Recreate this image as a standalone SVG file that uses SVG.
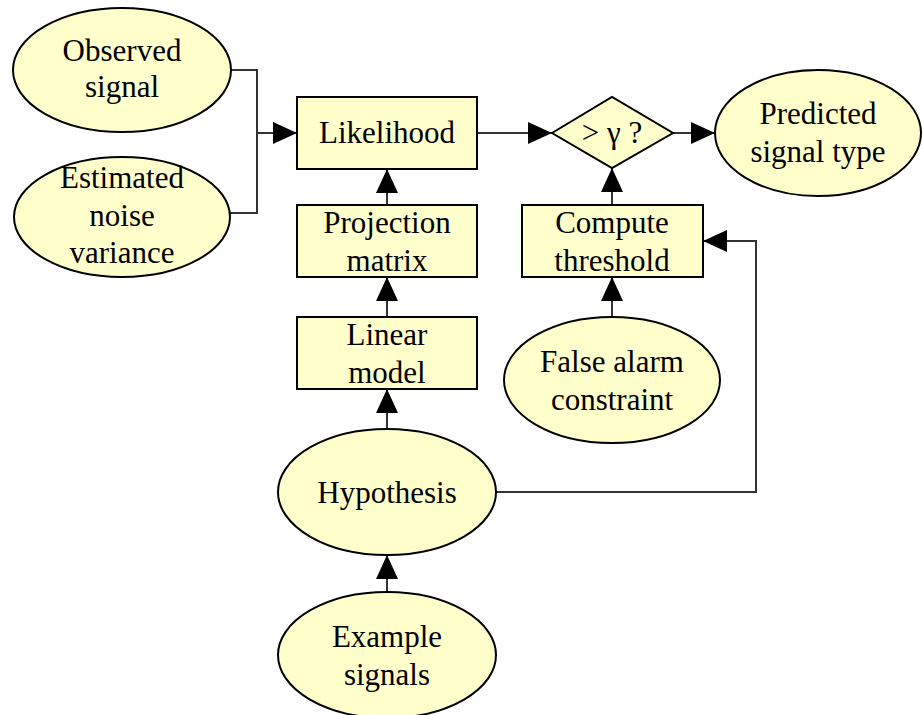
<svg xmlns="http://www.w3.org/2000/svg" width="922" height="715" viewBox="0 0 922 715">
  <style>
    .node { fill: #FFFFCC; stroke: #000000; stroke-width: 2; }
    .label { font-family: "Liberation Serif", "Times New Roman", serif; font-size: 31px; fill: #000000; text-anchor: middle; }
    .edge { fill: none; stroke: #333333; stroke-width: 2; marker-end: url(#arrow); }
  </style>
  <defs>
    <marker id="arrow" viewBox="0 0 24 22" refX="24" refY="11" markerWidth="24" markerHeight="22" markerUnits="userSpaceOnUse" orient="auto">
      <path d="M0,0 L24,11 L0,22 Z" fill="#000000"/>
    </marker>
  </defs>
  <rect width="922" height="715" fill="#FFFFFF"/>

  <!-- connectors -->
  <g id="edges">
    <path class="edge" d="M232,70 H257 V213 H230 M257,133 H297" />
    <path class="edge" d="M477,133 H552" />
    <path class="edge" d="M673,133 H715" />
    <path class="edge" d="M387,205 V169" />
    <path class="edge" d="M612,205 V168" />
    <path class="edge" d="M387,317 V277" />
    <path class="edge" d="M612,317 V277" />
    <path class="edge" d="M387,428 V389" />
    <path class="edge" d="M387,592 V555" />
    <path class="edge" d="M496,492 H756 V241 H703" />
  </g>

  <g id="observed-signal">
    <ellipse class="node" cx="122" cy="70" rx="109" ry="62"/>
    <text class="label" x="122" y="61">Observed</text>
    <text class="label" x="122" y="97">signal</text>
  </g>

  <g id="estimated-noise-variance">
    <ellipse class="node" cx="122" cy="217" rx="108" ry="60"/>
    <text class="label" x="122" y="188">Estimated</text>
    <text class="label" x="122" y="226">noise</text>
    <text class="label" x="122" y="263">variance</text>
  </g>

  <g id="likelihood">
    <rect class="node" x="297" y="97" width="180" height="72"/>
    <text class="label" x="387" y="143">Likelihood</text>
  </g>

  <g id="threshold-test">
    <polygon class="node" points="552,133 612,97 673,133 612,168"/>
    <text class="label" x="612" y="143">&gt; γ ?</text>
  </g>

  <g id="predicted-signal-type">
    <ellipse class="node" cx="818" cy="133" rx="103" ry="63"/>
    <text class="label" x="818" y="124">Predicted</text>
    <text class="label" x="818" y="162">signal type</text>
  </g>

  <g id="projection-matrix">
    <rect class="node" x="297" y="205" width="180" height="72"/>
    <text class="label" x="387" y="233">Projection</text>
    <text class="label" x="387" y="271">matrix</text>
  </g>

  <g id="compute-threshold">
    <rect class="node" x="522" y="205" width="181" height="72"/>
    <text class="label" x="612" y="233">Compute</text>
    <text class="label" x="612" y="271">threshold</text>
  </g>

  <g id="linear-model">
    <rect class="node" x="297" y="317" width="180" height="72"/>
    <text class="label" x="387" y="345">Linear</text>
    <text class="label" x="387" y="383">model</text>
  </g>

  <g id="false-alarm-constraint">
    <ellipse class="node" cx="612" cy="380" rx="108" ry="63"/>
    <text class="label" x="612" y="372">False alarm</text>
    <text class="label" x="612" y="410">constraint</text>
  </g>

  <g id="hypothesis">
    <ellipse class="node" cx="387" cy="492" rx="109" ry="63"/>
    <text class="label" x="387" y="503">Hypothesis</text>
  </g>

  <g id="example-signals">
    <ellipse class="node" cx="387" cy="655" rx="109" ry="63"/>
    <text class="label" x="387" y="647">Example</text>
    <text class="label" x="387" y="685">signals</text>
  </g>
</svg>
